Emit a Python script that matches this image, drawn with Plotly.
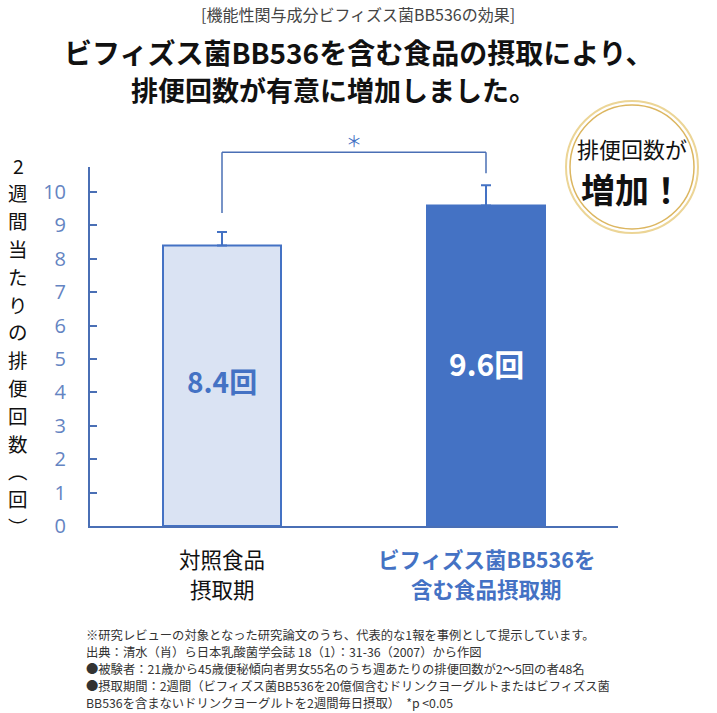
import plotly.graph_objects as go

# ---- data ----
categories = ["対照食品摂取期", "ビフィズス菌BB536を含む食品摂取期"]
tick_lines = [["対照食品", "摂取期"], ["ビフィズス菌BB536を", "含む食品摂取期"]]
tick_colors = ["#111111", "#4472c4"]
tick_bold = [False, True]
values = [8.4, 9.6]
errors_up = [0.4, 0.6]
value_labels = ["8.4回", "9.6回"]
y_ticks = [0, 1, 2, 3, 4, 5, 6, 7, 8, 9, 10]

# bracket levels (data units)
bracket_top = 11.19
bracket_left_low = 9.37
bracket_right_low = 10.56

W, H = 717, 713
L, R, T, B = 90, 99, 167, 187
YMAX = 10.75
PW, PH = W - L - R, H - T - B

def px2x(px):
    return (px - L) / PW

def py2y(py):
    return (H - B - py) / PH

def v2y(v):
    return v / YMAX

FONT = "Noto Sans CJK JP"
BLUE = "#4472c4"
AXIS = "#4a6fb5"
TICK = "#6484c2"

fig = go.Figure()
fig.add_trace(go.Bar(
    x=categories, y=values, width=0.447,
    marker=dict(color=["#dae3f3", BLUE], line=dict(color=BLUE, width=2)),
    error_y=dict(type="data", array=errors_up, arrayminus=[0, 0], symmetric=False,
                 color=BLUE, thickness=2, width=5),
    hoverinfo="skip",
))

def note(x, y, text, size, color, bold=False, xanchor="center", family=FONT, xref="paper"):
    if bold:
        text = "<b>" + text + "</b>"
    fig.add_annotation(x=x, y=y, xref=xref, yref="paper", text=text,
                       showarrow=False, xanchor=xanchor, yanchor="middle",
                       font=dict(family=family, size=size, color=color))

# value labels inside bars
fig.add_annotation(x=categories[0], y=4.34, text="<b>" + value_labels[0] + "</b>",
                   showarrow=False, font=dict(family=FONT, size=28, color=BLUE))
fig.add_annotation(x=categories[1], y=4.88, text="<b>" + value_labels[1] + "</b>",
                   showarrow=False, font=dict(family=FONT, size=30, color="white"))

# category labels (two lines each, under the axis)
for cat, lines, col, bld in zip(categories, tick_lines, tick_colors, tick_bold):
    for line, py in zip(lines, [558, 588]):
        note(cat, py2y(py), line, 21.5, col, bold=bld, xref="x")

# significance bracket
for (x0, y0, x1, y1) in [(0, bracket_left_low, 0, bracket_top),
                         (0, bracket_top, 1, bracket_top),
                         (1, bracket_top, 1, bracket_right_low)]:
    fig.add_shape(type="line", xref="x", yref="paper", x0=x0, x1=x1,
                  y0=v2y(y0), y1=v2y(y1), line=dict(color=AXIS, width=1.5))
fig.add_annotation(x=0.5, xref="x", y=py2y(140), yref="paper", text="＊",
                   showarrow=False, xanchor="center", yanchor="middle",
                   font=dict(family=FONT, size=16, color=BLUE))

# titles
note(px2x(358), py2y(14), "[機能性関与成分ビフィズス菌BB536の効果]", 16, "#444444")
note(px2x(358), py2y(52), "ビフィズス菌BB536を含む食品の摂取により、", 28, "#111111", bold=True)
note(px2x(333), py2y(90), "排便回数が有意に増加しました。", 27, "#111111", bold=True)

# y-axis title (vertical, one character per row)
ytitle_chars = ["2", "週", "間", "当", "た", "り", "の", "排", "便", "回", "数", "︵", "回", "︶"]
for i, ch in enumerate(ytitle_chars):
    note(px2x(18), py2y(165 + i * 27.8), ch, 19.5, "#111111")

# badge
cx, cy = 632, 167
for r, col, w in [(66, "#ecd596", 2), (62, "#dcb660", 1.5)]:
    fig.add_shape(type="circle", xref="paper", yref="paper",
                  x0=px2x(cx - r), x1=px2x(cx + r), y0=py2y(cy + r), y1=py2y(cy - r),
                  line=dict(color=col, width=w), fillcolor="rgba(255,255,255,0)")
note(px2x(cx), py2y(148), "排便回数が", 22, "#111111")
note(px2x(cx), py2y(188), "増加！", 34, "#111111", bold=True)

# footnotes
notes = [
    "※研究レビューの対象となった研究論文のうち、代表的な1報を事例として提示しています。",
    "出典：清水（肖）ら日本乳酸菌学会誌 18（1）：31-36（2007）から作図",
    "●被験者：21歳から45歳便秘傾向者男女55名のうち週あたりの排便回数が2～5回の者48名",
    "●摂取期間：2週間（ビフィズス菌BB536を20億個含むドリンクヨーグルトまたはビフィズス菌",
    "BB536を含まないドリンクヨーグルトを2週間毎日摂取）　*p <0.05",
]
note_y = [635, 652, 669, 686, 703]
for t, yy in zip(notes, note_y):
    note(px2x(84), py2y(yy), t, 12.3, "#333333", xanchor="left")

fig.update_layout(
    width=W, height=H, margin=dict(l=L, r=R, t=T, b=B, autoexpand=False),
    paper_bgcolor="white", plot_bgcolor="white", showlegend=False,
    font=dict(family=FONT),
    xaxis=dict(type="category", range=[-0.5, 1.5], showline=True, linecolor=AXIS,
               linewidth=2, ticks="", showgrid=False, zeroline=False,
               showticklabels=False),
    yaxis=dict(range=[0, YMAX], tickvals=y_ticks, showline=True, linecolor=AXIS,
               linewidth=2, ticks="inside", ticklen=7, tickcolor=AXIS, tickwidth=2,
               showgrid=False, zeroline=False,
               tickfont=dict(family="Open Sans", size=20, color=TICK),
               ticklabelstandoff=18),
)

fig.write_html("out.html", config={"displayModeBar": False},
               post_script="document.body.style.margin='0';document.body.style.overflow='hidden';")
